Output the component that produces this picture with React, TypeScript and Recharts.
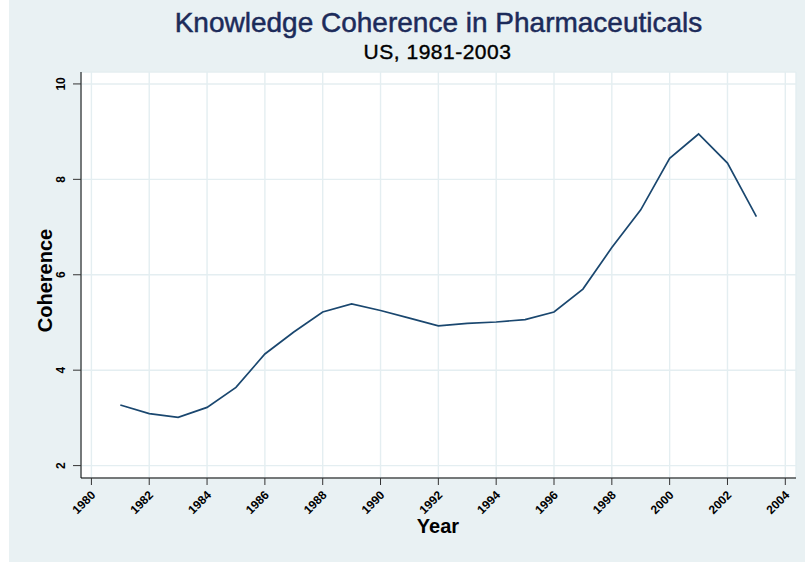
import React from "react";
import { LineChart, Line, XAxis, YAxis, CartesianGrid } from "recharts";

const years = [1981, 1982, 1983, 1984, 1985, 1986, 1987, 1988, 1989, 1990, 1991, 1992, 1993, 1994, 1995, 1996, 1997, 1998, 1999, 2000, 2001, 2002, 2003];
const coherence = [3.27, 3.09, 3.01, 3.22, 3.64, 4.34, 4.8, 5.22, 5.39, 5.25, 5.09, 4.93, 4.98, 5.01, 5.06, 5.22, 5.7, 6.57, 7.36, 8.44, 8.95, 8.34, 7.22];
const xTicks = [1980, 1982, 1984, 1986, 1988, 1990, 1992, 1994, 1996, 1998, 2000, 2002, 2004];
const yTicks = [2, 4, 6, 8, 10];

const title = "Knowledge Coherence in Pharmaceuticals";
const subtitle = "US, 1981-2003";
const xTitle = "Year";
const yTitle = "Coherence";

const data = years.map((y, i) => ({ year: y, value: coherence[i] }));

const BG = "#e9f1f3";
const GRID = "#e4eef1";
const LINE = "#1a476f";
const FONT = "'Liberation Sans', Arial, Helvetica, sans-serif";

const XTick = (props: any) => {
  const { x, y, payload } = props;
  const ax = x + 2;
  const ay = y + 6;
  return (
    <text
      x={ax}
      y={ay}
      textAnchor="end"
      dominantBaseline="central"
      transform={`rotate(-45, ${ax}, ${ay})`}
      fontSize={12}
      fontWeight="bold"
      fontFamily={FONT}
      fill="#000"
    >
      {payload.value}
    </text>
  );
};

const YTick = (props: any) => {
  const { x, y, payload } = props;
  const ax = x - 6;
  return (
    <text
      x={ax}
      y={y}
      textAnchor="middle"
      transform={`rotate(-90, ${ax}, ${y})`}
      fontSize={12}
      fontWeight="bold"
      fontFamily={FONT}
      fill="#000"
    >
      {payload.value}
    </text>
  );
};

export default function App() {
  return (
    <div style={{ position: "fixed", left: 0, top: 0, width: 805, height: 562, background: "#fff" }}>
      <div style={{ position: "absolute", left: 9, top: 0, width: 796, height: 562, background: BG }}>
        <LineChart
          width={796}
          height={562}
          data={data}
          margin={{ top: 72, right: 9, bottom: 0, left: 0 }}
        >
          <CartesianGrid stroke={GRID} strokeWidth={1.4} fill="#ffffff" />
          <XAxis
            dataKey="year"
            type="number"
            domain={[1979.64, 2004.37]}
            ticks={xTicks}
            allowDataOverflow
            height={84}
            tickSize={7}
            axisLine={{ stroke: "#000", strokeWidth: 1 }}
            tickLine={{ stroke: "#333", strokeWidth: 1 }}
            tick={<XTick />}
            interval={0}
          />
          <YAxis
            type="number"
            domain={[1.74, 10.25]}
            ticks={yTicks}
            allowDataOverflow
            width={72}
            tickSize={8}
            axisLine={{ stroke: "#000", strokeWidth: 1 }}
            tickLine={{ stroke: "#333", strokeWidth: 1 }}
            tick={<YTick />}
            interval={0}
          />
          <Line
            type="linear"
            dataKey="value"
            stroke={LINE}
            strokeWidth={1.7}
            dot={false}
            isAnimationActive={false}
          />
        </LineChart>
      </div>
      <svg
        width={805}
        height={562}
        style={{ position: "absolute", left: 0, top: 0, pointerEvents: "none" }}
      >
        <text x={438.5} y={32} textAnchor="middle" fontSize={28} fontFamily={FONT} fill="#1c2b5a" stroke="#1c2b5a" strokeWidth={0.5}>
          {title}
        </text>
        <text x={437.5} y={59.3} textAnchor="middle" fontSize={21} fontFamily={FONT} fill="#000" stroke="#000" strokeWidth={0.4} letterSpacing={0.5}>
          {subtitle}
        </text>
        <text x={438} y={533} textAnchor="middle" fontSize={20} fontWeight="bold" fontFamily={FONT} fill="#000">
          {xTitle}
        </text>
        <text
          x={52}
          y={280.5}
          textAnchor="middle"
          transform="rotate(-90, 52, 280.5)"
          fontSize={20}
          fontWeight="bold"
          fontFamily={FONT}
          fill="#000"
        >
          {yTitle}
        </text>
      </svg>
    </div>
  );
}
